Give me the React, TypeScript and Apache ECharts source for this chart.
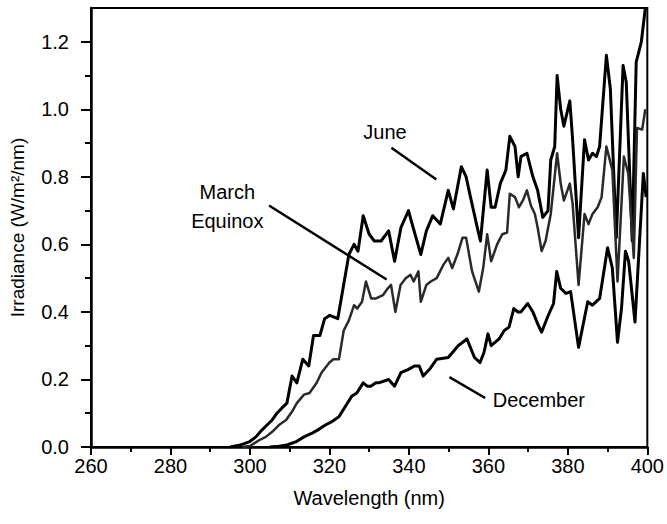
import React, { useEffect, useRef } from "react";
import * as echarts from "echarts";

const xTicks = [260, 280, 300, 320, 340, 360, 380, 400];
const yTicks = [0, 0.2, 0.4, 0.6, 0.8, 1.0, 1.2];
const yMinorTicks = [0.1, 0.3, 0.5, 0.7, 0.9, 1.1];

const june: [number, number][] = [
  [295, 0], [297.3, 0.005], [299.8, 0.015], [301.5, 0.03], [303, 0.05], [304.3, 0.065], [305.6, 0.08],
  [306.8, 0.1], [308, 0.115], [309.3, 0.13], [310.6, 0.21], [311.8, 0.19], [313.3, 0.26], [314.8, 0.24],
  [316, 0.33], [317.6, 0.33], [318.8, 0.38], [320.1, 0.39], [322.1, 0.38], [324.9, 0.57], [326.2, 0.6],
  [327.2, 0.58], [328.5, 0.685], [330, 0.63], [331.3, 0.61], [333, 0.61], [334.9, 0.64], [336.4, 0.55],
  [338, 0.65], [339.9, 0.7], [340.7, 0.665], [343, 0.57], [344.4, 0.64], [346, 0.685], [347.9, 0.66],
  [349.9, 0.76], [351.2, 0.705], [353.2, 0.83], [354.4, 0.8], [355.5, 0.74], [357.4, 0.64], [358, 0.61],
  [359.7, 0.82], [360.7, 0.71], [361.7, 0.71], [363, 0.78], [364.4, 0.82], [365.4, 0.92], [366.7, 0.89],
  [367.5, 0.8], [368.2, 0.86], [369.7, 0.87], [371.2, 0.8], [372.4, 0.76], [373.7, 0.68], [375, 0.7],
  [375.7, 0.85], [376.7, 0.89], [377.3, 1.1], [378.2, 1.0], [379, 0.95], [380.5, 1.025], [381.2, 0.91],
  [382.7, 0.62], [384.2, 0.91], [385.2, 0.85], [386.2, 0.87], [387.2, 0.86], [388, 0.89], [389.7, 1.16],
  [390.7, 1.06], [392.2, 0.62], [393.9, 1.13], [394.7, 1.08], [396.2, 0.61], [397.2, 1.14], [398.5, 1.2],
  [399.5, 1.3],
];

const march: [number, number][] = [
  [298, 0], [300, 0.003], [302.3, 0.02], [304, 0.03], [305.6, 0.045], [307.3, 0.065], [309.1, 0.08],
  [310.6, 0.105], [311.8, 0.13], [313.6, 0.155], [315, 0.16], [316.8, 0.19], [318, 0.22], [320, 0.25],
  [321, 0.26], [322.4, 0.26], [323.6, 0.345], [324.9, 0.375], [326.2, 0.42], [327, 0.41], [328.2, 0.43],
  [329.2, 0.49], [330.5, 0.44], [331.7, 0.44], [333.5, 0.45], [334.7, 0.47], [335.5, 0.48], [336.6, 0.4],
  [337.9, 0.48], [339.2, 0.5], [340.4, 0.51], [341.2, 0.49], [342.4, 0.52], [343, 0.43], [344.4, 0.48],
  [345.5, 0.49], [347, 0.5], [348.7, 0.54], [349.9, 0.56], [350.9, 0.53], [352.2, 0.57], [353.5, 0.62],
  [354.4, 0.62], [355.9, 0.52], [357.6, 0.46], [358.7, 0.53], [359.7, 0.63], [360.7, 0.55], [362.2, 0.6],
  [363.5, 0.63], [364.7, 0.635], [365.4, 0.75], [366.7, 0.74], [367.7, 0.71], [368.7, 0.73], [369.7, 0.76],
  [370.7, 0.715], [371.7, 0.69], [372.4, 0.65], [373.4, 0.58], [374.4, 0.61], [375.7, 0.69], [376.5, 0.78],
  [377.3, 0.87], [378.2, 0.78], [379, 0.73], [380.5, 0.78], [381.2, 0.72], [382.7, 0.48], [384.2, 0.69],
  [385.2, 0.66], [386.2, 0.69], [387.5, 0.71], [388.5, 0.74], [389.7, 0.89], [391.2, 0.82], [392.5, 0.49],
  [394.1, 0.86], [395.2, 0.81], [396.6, 0.56], [397.4, 0.945], [398.7, 0.94], [399.5, 1.0],
];

const december: [number, number][] = [
  [305, 0], [307.3, 0.002], [309.3, 0.006], [311.5, 0.015], [313.6, 0.03], [315.5, 0.04], [317, 0.05],
  [319, 0.065], [320.6, 0.075], [322.4, 0.09], [324, 0.12], [325.6, 0.15], [326.9, 0.16], [328.5, 0.19],
  [329.5, 0.18], [330.4, 0.18], [331.7, 0.19], [332.4, 0.19], [334.9, 0.2], [336.4, 0.18], [338, 0.22],
  [339.9, 0.23], [341.4, 0.24], [342.6, 0.24], [343.6, 0.21], [345.2, 0.23], [347, 0.26], [349.9, 0.265],
  [352.4, 0.3], [354.6, 0.32], [356.5, 0.265], [357.9, 0.25], [358.9, 0.28], [359.9, 0.335], [360.7, 0.3],
  [362.7, 0.32], [364, 0.345], [365.2, 0.355], [366.4, 0.41], [367.4, 0.4], [368.2, 0.4], [369.9, 0.425],
  [371.2, 0.4], [372.4, 0.365], [373.4, 0.34], [374.9, 0.385], [376.4, 0.425], [377.2, 0.52], [378.2, 0.47],
  [379.5, 0.455], [380.7, 0.46], [382.7, 0.295], [385, 0.43], [386.2, 0.42], [388, 0.44], [390, 0.59],
  [391.2, 0.53], [392.5, 0.31], [393.5, 0.41], [394.5, 0.58], [395.3, 0.55], [396.9, 0.37], [399, 0.81],
  [399.7, 0.74],
];

// annotation leader lines (data coords)
const leaders: [number, number, number, number][] = [
  [335.6, 0.886, 346.9, 0.792],
  [304.8, 0.715, 334.4, 0.496],
  [350.2, 0.207, 359.2, 0.145],
];
const labels: { text: string; x: number; y: number }[] = [
  { text: "June", x: 334, y: 0.934 },
  { text: "March\nEquinox", x: 294.3, y: 0.713 },
  { text: "December", x: 372.7, y: 0.139 },
];

const FONT = "'Liberation Sans', Arial, Helvetica, sans-serif";

export default function App() {
  const ref = useRef<HTMLDivElement>(null);
  useEffect(() => {
    if (!ref.current) return;
    const chart = echarts.init(ref.current, undefined, { renderer: "svg" });
    const line = (name: string, data: [number, number][], color: string, width: number) => ({
      name,
      type: "line",
      data,
      symbol: "none",
      xAxisIndex: 0,
      yAxisIndex: 0,
      lineStyle: { color, width, join: "round" },
      z: 3,
    });
    chart.setOption({
      animation: false,
      backgroundColor: "#fff",
      textStyle: { fontFamily: FONT },
      grid: {
        left: 91,
        right: 17,
        top: 8,
        bottom: 77,
        show: true,
        borderColor: "#000",
        borderWidth: 2,
        backgroundColor: "transparent",
      },
      xAxis: {
        type: "value",
        min: 260,
        max: 400,
        interval: 20,
        name: "Wavelength (nm)",
        nameLocation: "middle",
        nameGap: 41,
        nameTextStyle: { fontSize: 20, color: "#000", fontFamily: FONT },
        axisLine: { show: true, lineStyle: { color: "#000", width: 2.5 } },
        axisTick: { show: true, length: 8, lineStyle: { color: "#000", width: 2 } },
        minorTick: { show: true, splitNumber: 2, length: 5, lineStyle: { color: "#000", width: 2 } },
        splitLine: { show: false },
        axisLabel: {
          fontSize: 20,
          color: "#000",
          margin: 9,
          fontFamily: FONT,
          formatter: (v: number) => (xTicks.includes(v) ? String(v) : ""),
        },
      },
      yAxis: [
        {
          type: "value",
          min: 0,
          max: 1.3,
          interval: 0.2,
          name: "Irradiance (W/m²/nm)",
          nameLocation: "middle",
          nameGap: 64,
          nameTextStyle: { fontSize: 19, color: "#000", fontFamily: FONT },
          axisLine: { show: true, lineStyle: { color: "#000", width: 2.5 } },
          axisTick: { show: true, length: 10, customValues: yTicks, lineStyle: { color: "#000", width: 2 } },
          splitLine: { show: false },
          axisLabel: {
            fontSize: 20,
            color: "#000",
            margin: 22,
            fontFamily: FONT,
            customValues: yTicks,
            formatter: (v: number) => v.toFixed(1),
          },
        },
        {
          type: "value",
          min: 0,
          max: 1.3,
          interval: 0.1,
          position: "left",
          axisLine: { show: false },
          axisTick: { show: true, length: 6, customValues: yMinorTicks, lineStyle: { color: "#000", width: 2 } },
          axisLabel: { show: false },
          splitLine: { show: false },
        },
      ],
      series: [
        {
          ...line("June", june, "#000", 3),
          markLine: {
            silent: true,
            symbol: ["none", "none"],
            label: { show: false },
            lineStyle: { color: "#000", width: 2.5, type: "solid" },
            data: leaders.map(([x1, y1, x2, y2]) => [{ coord: [x1, y1] }, { coord: [x2, y2] }]),
          },
          markPoint: {
            silent: true,
            symbol: "rect",
            symbolSize: 1,
            itemStyle: { color: "rgba(0,0,0,0)" },
            label: {
              show: true,
              position: "inside",
              color: "#000",
              fontSize: 20,
              lineHeight: 29,
              align: "center",
              fontFamily: FONT,
              formatter: (p: any) => p.name,
            },
            data: labels.map((l) => ({ name: l.text, coord: [l.x, l.y] })),
          },
        },
        line("March Equinox", march, "#2a2a2a", 2.5),
        line("December", december, "#000", 3),
      ],
    });
    return () => chart.dispose();
  }, []);
  return <div ref={ref} style={{ width: 667, height: 524, position: "absolute", left: 0, top: 0 }} />;
}
